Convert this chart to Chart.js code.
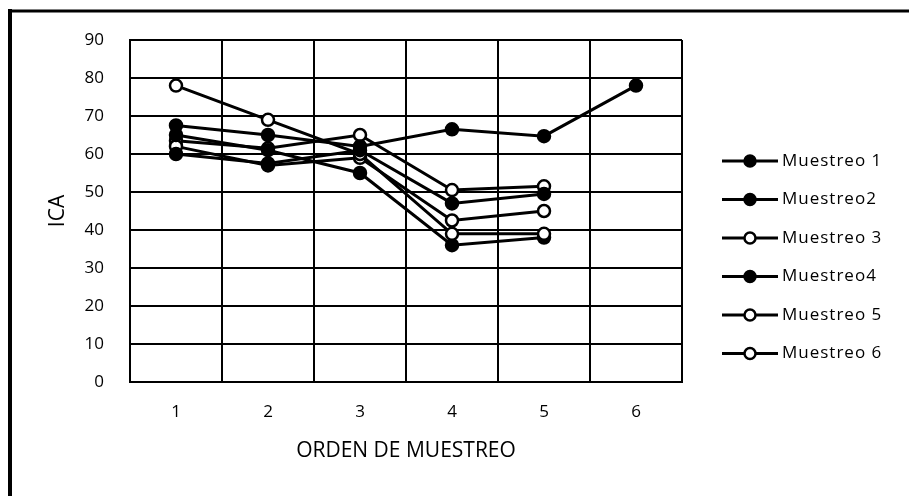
<!DOCTYPE html>
<html>
<head>
<meta charset="utf-8">
<script src="https://cdn.jsdelivr.net/npm/chart.js@4"></script>
<style>
  html, body { margin: 0; padding: 0; background: #fff; }
  #wrap { width: 909px; height: 496px; position: relative; }
</style>
</head>
<body>
<div id="wrap"><canvas id="icaChart" width="909" height="496"></canvas></div>
<script>
// ICA per sampling order
const categories = ['1', '2', '3', '4', '5', '6'];
const seriesNames = ['Muestreo 1', 'Muestreo2', 'Muestreo 3', 'Muestreo4', 'Muestreo 5', 'Muestreo 6'];
const muestreo1 = [67.5, 65, 62, 66.5, 64.7, 78];
const muestreo2 = [60, 57.5, 61, 47, 49.5];
const muestreo3 = [78, 69, 60, 39, 39];
const muestreo4 = [65, 61, 55, 36, 38];
const muestreo5 = [62, 57, 59, 42.5, 45];
const muestreo6 = [63.5, 61.5, 65, 50.5, 51.5];
const filled = [true, true, false, true, false, false];
const yTicks = [0, 10, 20, 30, 40, 50, 60, 70, 80, 90];

const FONT = "'Open Sans', sans-serif";
const allValues = [muestreo1, muestreo2, muestreo3, muestreo4, muestreo5, muestreo6];

const datasets = allValues.map((vals, i) => ({
    label: seriesNames[i],
    data: vals,
    borderColor: '#000',
    borderWidth: 3,
    backgroundColor: filled[i] ? '#000' : '#fff',
    pointBackgroundColor: filled[i] ? '#000' : '#fff',
    pointBorderColor: '#000',
    pointBorderWidth: 2.5,
    pointRadius: 6,
    tension: 0,
    fill: false
}));

// Outer frame (left and top edge of the figure)
const framePlugin = {
    id: 'frame',
    afterDraw(chart) {
        const c = chart.ctx;
        c.save();
        c.strokeStyle = '#000';
        c.lineWidth = 4;
        c.beginPath();
        c.moveTo(10, 9);
        c.lineTo(10, 496);
        c.stroke();
        c.lineWidth = 3;
        c.beginPath();
        c.moveTo(8, 11);
        c.lineTo(909, 11);
        c.stroke();
        c.restore();
    }
};

// Legend on the right: line with marker, then the series name
const sideLegend = {
    id: 'sideLegend',
    afterDraw(chart) {
        const c = chart.ctx;
        const x0 = 722, x1 = 778, mx = 750, tx = 782;
        const top = 161, step = 38.5;
        c.save();
        chart.data.datasets.forEach((ds, i) => {
            const y = top + i * step;
            c.strokeStyle = '#000';
            c.lineWidth = 3;
            c.beginPath();
            c.moveTo(x0, y);
            c.lineTo(x1, y);
            c.stroke();
            c.beginPath();
            c.arc(mx, y, 5.5, 0, Math.PI * 2);
            c.fillStyle = ds.pointBackgroundColor;
            c.fill();
            c.lineWidth = 2.5;
            c.stroke();
            c.fillStyle = '#000';
            c.font = '17px ' + FONT;
            c.letterSpacing = '1px';
            c.textBaseline = 'middle';
            c.textAlign = 'left';
            c.fillText(ds.label, tx, y);
        });
        c.restore();
    }
};

new Chart(document.getElementById('icaChart'), {
    type: 'line',
    data: { labels: categories, datasets: datasets },
    options: {
        responsive: false,
        animation: false,
        layout: { padding: { top: 40, right: 227, bottom: 0, left: 0 } },
        plugins: {
            legend: { display: false },
            tooltip: { enabled: false }
        },
        scales: {
            x: {
                type: 'category',
                offset: true,
                grid: { offset: true, color: '#000', lineWidth: 2, drawTicks: false },
                border: { color: '#000', width: 2 },
                ticks: { color: '#000', font: { family: FONT, size: 17 }, padding: 20 },
                title: {
                    display: true, text: 'ORDEN DE MUESTREO', color: '#000',
                    font: { family: FONT, size: 21 }, padding: { top: 0, bottom: 32 }
                },
                afterFit(scale) { scale.height = 114; }
            },
            y: {
                min: 0, max: 90,
                afterBuildTicks(scale) { scale.ticks = yTicks.map(v => ({ value: v })); },
                grid: { color: '#000', lineWidth: 2, drawTicks: false },
                border: { color: '#000', width: 2 },
                ticks: { color: '#000', font: { family: FONT, size: 17 }, padding: 26 },
                title: {
                    display: true, text: 'ICA', color: '#000',
                    font: { family: FONT, size: 21 }, padding: { top: 45, bottom: 0 }
                },
                afterFit(scale) { scale.width = 130; }
            }
        }
    },
    plugins: [framePlugin, sideLegend]
});
</script>
</body>
</html>
